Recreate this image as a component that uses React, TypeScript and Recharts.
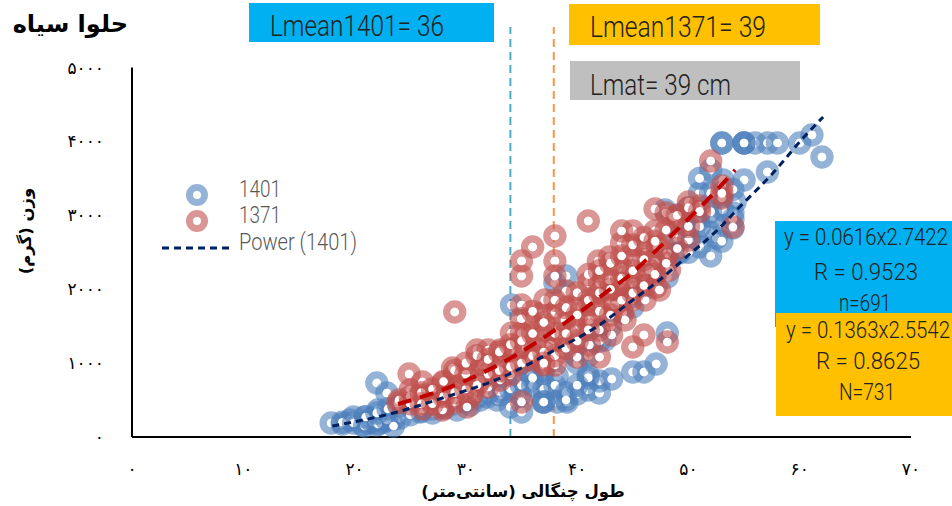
import React from 'react';
import {
  ComposedChart,
  Scatter,
  XAxis,
  YAxis,
  ReferenceLine,
  Legend,
} from 'recharts';

const lengths1401 = [
  17.9, 18.9, 19.9, 20.7, 20.9, 19.6, 21.2, 21.6, 22.0, 22.9, 22.0, 22.1, 22.6, 23.0, 23.5, 24.1, 27.0, 25.9,
  28.1, 29.2, 30.4, 31.3, 31.9, 32.8, 33.1, 33.1, 34.0, 34.1, 35.0, 35.0, 36.9, 36.9, 38.2, 38.2, 39.1, 40.0,
  41.0, 42.0, 42.0, 43.1, 41.0, 45.0, 46.0, 47.1, 48.1, 41.4, 39.0, 38.0, 45.0, 48.1, 47.9, 49.0, 53.0, 55.0,
  56.0, 57.1, 58.0, 60.0, 61.1, 62.0, 57.1, 55.0, 52.0, 53.1, 51.0, 54.2, 54.0, 52.1, 51.9, 52.5, 51.0, 54.0,
  53.1, 50.9, 49.2, 50.1, 47.0, 45.6, 43.8, 42.0, 39.8, 35.8, 30.4, 34.9, 42.5, 48.2, 49.7,
  18.9, 19.9, 20.9, 21.6, 22.1, 22.9, 23.5, 21, 22, 23, 24, 25, 26, 27, 28, 29, 30, 31, 32, 33, 34, 35, 36, 37,
  38, 39, 40, 41, 42, 43, 44, 45, 46, 47, 48, 49, 50, 50, 51, 52, 53, 52, 53, 54, 54, 51, 52, 49, 50, 41, 40,
  39, 37, 36, 53, 55, 55, 37, 37,
];
const weights1401 = [
  190, 176, 271, 162, 271, 230, 190, 257, 731, 595, 162, 365, 203, 271, 244, 257, 325, 338,
  392, 365, 433, 500, 541, 500, 663, 568, 406, 1786, 338, 785, 771, 474, 474, 825, 474, 582,
  636, 595, 758, 785, 839, 879, 879, 988, 1407, 1285, 2178, 2084, 1759, 2165, 3071, 2490, 3978, 3978,
  3978, 3978, 3978, 3978, 4086, 3788, 3585, 3477, 3613, 3477, 3301, 3180, 3031, 2977, 2774, 2692, 2571, 2828,
  3071, 2977, 2490, 2665, 2192, 1989, 1854, 1448, 1109, 839, 568, 568, 1312, 2395, 2868,
  200, 190, 149, 203, 176, 230, 149, 271, 325, 380, 420, 300, 350, 380, 420, 450, 480, 540, 600, 620, 650, 700, 700, 650,
  700, 600, 1000, 1100, 1300, 1500, 1700, 1900, 2000, 2300, 2400, 2700, 2800, 2500, 2850, 3050, 2650, 2450, 3250, 2950, 3350, 3500, 3300, 3000, 3100, 800, 700,
  500, 900, 800, 3978, 3978, 3978, 474, 474,
];

const lengths1371 = [
  29.0, 24.9, 25.0, 23.9, 26.1, 28.0, 29.0, 31.0, 32.0, 33.0, 35.0, 34.1, 35.0, 35.0, 35.0, 35.0, 36.0, 38.0,
  41.0, 38.0, 38.0, 39.0, 36.9, 38.0, 40.0, 41.1, 43.1, 45.0, 46.0, 48.1, 40.0, 42.0, 37.0, 37.0, 38.0, 35.0,
  31.0, 30.4, 32.0, 26.1, 27.9, 28.8, 31.5, 30.6, 29.2, 28.3, 29.7, 29.0, 30.1, 27.9, 27.0, 41.9, 42.9, 44.0,
  45.0, 44.0, 47.0, 47.0, 45.9, 45.0, 44.0, 44.0, 42.9, 47.0, 48.1, 46.0, 45.0, 47.1, 48.0, 49.1, 50.0, 50.0,
  41.0, 42.0, 40.0, 42.0, 44.1, 42.9, 52.0, 53.0, 53.0, 54.0, 51.0, 48.6, 46.1, 47.2, 42.9, 44.9, 46.1, 47.4,
  48.3, 46.5, 44.3, 42.0, 38.5, 39.8, 41.1, 36.7, 37.1, 35.8, 34.0, 36.2, 37.6, 38.9, 41.1, 43.4, 33.1, 26.8,
  25.9, 31.3, 33.1, 34.0, 35.8,
  24, 25, 25, 26, 26, 27, 27, 28, 28, 29, 29, 30, 30, 30, 31, 31, 32, 32, 33, 33, 34, 34, 35, 35, 35, 36, 36, 36,
  37, 37, 38, 38, 38, 39, 39, 39, 40, 40, 40, 41, 41, 41, 42, 42, 42, 43, 43, 43, 44, 44, 44, 45, 45, 45, 46, 46,
  46, 47, 47, 48, 48, 49, 49, 50, 50, 51, 53, 37,
];
const weights1371 = [
  1691, 852, 636, 460, 379, 392, 839, 1177, 1177, 1015, 1177, 1407, 1407, 1786, 2178, 2381, 2571, 2720,
  2922, 2381, 2178, 1975, 1678, 1678, 1542, 1786, 1380, 1218, 1380, 1285, 1082, 1082, 1380, 974, 974, 474,
  866, 541, 677, 744, 731, 934, 974, 595, 677, 636, 541, 474, 406, 365, 568, 2381, 2435, 2625,
  2787, 2787, 3085, 2787, 2584, 2381, 2287, 2084, 1921, 2368, 2490, 2178, 2084, 2030, 3031, 2895, 3180, 2665,
  2084, 1786, 1786, 2084, 1678, 1813, 3734, 3396, 3234, 2841, 3125, 2977, 2571, 2571, 2124, 1854, 1854, 1989,
  2260, 2260, 1583, 1448, 1312, 1448, 1583, 1245, 1854, 1583, 1177, 1109, 1245, 1583, 1245, 1786, 1177, 500,
  568, 771, 771, 839, 1042,
  500, 550, 450, 600, 450, 650, 450, 550, 750, 600, 900, 650, 850, 1000, 700, 1100, 850, 1050, 900, 1150, 950, 1250, 1000, 1300, 1600, 1100, 1400, 1700,
  1150, 1550, 1100, 1400, 1850, 1200, 1400, 1750, 1300, 1650, 1950, 1450, 1850, 2200, 1700, 1950, 2250, 1650, 2000, 2350, 1850, 2150, 2450, 1950, 2250, 2600, 2050, 2400,
  2700, 2200, 2650, 2350, 2800, 2550, 3000, 2850, 3100, 3050, 3300, 1000,
];

const trendLengths1401 = [18.0, 23.5, 27.9, 33.1, 38.0, 42.0, 45.0, 47.4, 49.5, 52.6, 54.6, 57.6, 60.3, 62.1];
const trendWeights1401 = [149, 325, 528, 798, 1177, 1515, 1854, 2124, 2395, 2801, 3112, 3572, 4045, 4330];
const trendLengths1371 = [23.9, 29.7, 34.2, 38.0, 40.5, 42.5, 44.5, 46.5, 48.6, 51.7, 54.2];
const trendWeights1371 = [446, 744, 1082, 1448, 1718, 1948, 2165, 2435, 2747, 3207, 3613];

const xTicks = [0, 10, 20, 30, 40, 50, 60, 70];
const yTicks = [0, 1000, 2000, 3000, 4000, 5000];
const lmean1401 = 34;
const lmean1371 = 37.9;

const BLUE = '#4f81bd';
const RED = '#c0504d';
const ARABIC_FONT = '"DejaVu Sans", sans-serif';
const LIGHT_FONT = 'Roboto, sans-serif';
const SQUEEZE = 0.8; // the original font is a narrow one

const zip = (xs: number[], ys: number[]) => xs.map((x, i) => ({ x, y: ys[i] }));
const toPersian = (v: number) => String(v).replace(/\d/g, d => '۰۱۲۳۴۵۶۷۸۹'[Number(d)]);

const ring = (color: string) => (props: any) => (
  <g>
    <circle cx={props.cx} cy={props.cy} r={8} fill="none" stroke={color} strokeOpacity={0.6} strokeWidth={7.4} />
    <circle cx={props.cx} cy={props.cy} r={4.3} fill="#fff" />
  </g>
);
const noMark = () => <g />;

const FitText = ({ x, y, w, size, fill = '#222', children }: any) => (
  <text
    transform={`translate(${x} ${y}) scale(${SQUEEZE} 1)`}
    fontSize={size}
    fontFamily={LIGHT_FONT}
    fontWeight={300}
    fill={fill}
    textLength={w / SQUEEZE}
    lengthAdjust="spacingAndGlyphs"
  >
    {children}
  </text>
);

const legendContent = () => (
  <svg width={240} height={94} style={{ display: 'block' }}>
    <circle cx={37} cy={25} r={7.5} fill="none" stroke={BLUE} strokeOpacity={0.6} strokeWidth={7} />
    <circle cx={37} cy={25} r={3} fill="#fff" />
    <circle cx={37} cy={51} r={7.5} fill="none" stroke={RED} strokeOpacity={0.6} strokeWidth={7} />
    <circle cx={37} cy={51} r={3} fill="#fff" />
    <line x1={2} x2={72} y1={78} y2={78} stroke="#002060" strokeWidth={3} strokeDasharray="7 5" />
    <FitText x={79} y={27} w={42} size={23} fill="#595959">1401</FitText>
    <FitText x={79} y={53} w={42} size={23} fill="#595959">1371</FitText>
    <FitText x={79} y={80} w={118} size={23} fill="#595959">Power (1401)</FitText>
  </svg>
);

const boxes = [
  { x: 249, y: 3, w: 245, h: 39, fill: '#00b0f0' },
  { x: 569, y: 4, w: 251, h: 41, fill: '#ffc000' },
  { x: 570, y: 61, w: 230, h: 39, fill: '#bfbfbf' },
  { x: 775, y: 221, w: 177, h: 106, fill: '#00b0f0' },
  { x: 776, y: 313, w: 176, h: 103, fill: '#ffc000' },
];

export default function App() {
  return (
    <div style={{ position: 'absolute', left: 0, top: 0, width: 952, height: 506, background: '#fff', overflow: 'hidden' }}>
      <ComposedChart width={952} height={506} margin={{ top: 27, right: 41, bottom: 0, left: 0 }}>
        <XAxis
          type="number"
          dataKey="x"
          domain={[0, 70]}
          ticks={xTicks}
          tickFormatter={toPersian}
          height={69}
          interval={0}
          allowDuplicatedCategory={false}
          tickLine={false}
          tickMargin={20}
          axisLine={{ stroke: '#000', strokeWidth: 2 }}
          tick={{ fontSize: 17, fill: '#000', fontFamily: ARABIC_FONT, letterSpacing: 5 }}
        />
        <YAxis
          type="number"
          dataKey="y"
          domain={[0, 5548]}
          ticks={yTicks}
          tickFormatter={toPersian}
          width={132}
          interval={0}
          axisLine={false}
          tickLine={false}
          tickMargin={22}
          tick={{ fontSize: 17, fill: '#000', fontFamily: ARABIC_FONT, letterSpacing: 6 }}
        />
        <ReferenceLine
          segment={[{ x: 0, y: 0 }, { x: 0, y: 5000 }]}
          stroke="#000"
          strokeWidth={2}
        />
        <Scatter
          name="1401"
          data={zip(lengths1401, weights1401)}
          shape={ring(BLUE)}
          isAnimationActive={false}
        />
        <Scatter
          name="1371"
          data={zip(lengths1371, weights1371)}
          shape={ring(RED)}
          isAnimationActive={false}
        />
        <Scatter
          name="Power (1371)"
          data={zip(trendLengths1371, trendWeights1371)}
          shape={noMark}
          line={{ stroke: '#c00000', strokeWidth: 4, strokeDasharray: '14 9' }}
          lineJointType="monotone"
          isAnimationActive={false}
        />
        <Scatter
          name="Power (1401)"
          data={zip(trendLengths1401, trendWeights1401)}
          shape={noMark}
          line={{ stroke: '#002060', strokeWidth: 3, strokeDasharray: '7 5' }}
          lineJointType="monotone"
          isAnimationActive={false}
        />
        <ReferenceLine x={lmean1401} stroke="#4bacc6" strokeWidth={2} strokeDasharray="8 5" />
        <ReferenceLine x={lmean1371} stroke="#f79646" strokeWidth={2} strokeDasharray="8 5" />
        <Legend
          layout="vertical"
          align="center"
          verticalAlign="middle"
          content={legendContent}
          wrapperStyle={{ position: 'absolute', left: 160, top: 170, width: 240, height: 94 }}
        />
      </ComposedChart>

      <svg width={952} height={506} style={{ position: 'absolute', left: 0, top: 0, pointerEvents: 'none' }}>
        {boxes.map(b => (
          <rect key={`${b.x}-${b.y}`} x={b.x} y={b.y} width={b.w} height={b.h} fill={b.fill} />
        ))}
        <text x={128} y={32} textAnchor="end" fontSize={24} fontWeight="bold" fontFamily={ARABIC_FONT} fill="#000">
          حلوا سیاه
        </text>
        <text x={523} y={497} textAnchor="middle" fontSize={16.5} fontWeight="bold" fontFamily={ARABIC_FONT} fill="#000">
          طول چنگالی (سانتی‌متر)
        </text>
        <text
          x={26}
          y={231}
          transform="rotate(-90 26 231)"
          textAnchor="middle"
          dominantBaseline="middle"
          fontSize={16.5}
          fontWeight="bold"
          fontFamily={ARABIC_FONT}
          fill="#000"
        >
          وزن (گرم)
        </text>
        <FitText x={270} y={36} w={174} size={29}>Lmean1401= 36</FitText>
        <FitText x={590} y={37} w={176} size={29}>Lmean1371= 39</FitText>
        <FitText x={590} y={95} w={141} size={29}>Lmat= 39 cm</FitText>
        <FitText x={784} y={245} w={164} size={24}>y = 0.0616x2.7422</FitText>
        <FitText x={814} y={280} w={104} size={24}>R  = 0.9523</FitText>
        <FitText x={839} y={311} w={52} size={24}>n=691</FitText>
        <FitText x={786} y={338} w={164} size={24}>y = 0.1363x2.5542</FitText>
        <FitText x={816} y={369} w={104} size={24}>R  = 0.8625</FitText>
        <FitText x={839} y={400} w={56} size={24}>N=731</FitText>
      </svg>
    </div>
  );
}
